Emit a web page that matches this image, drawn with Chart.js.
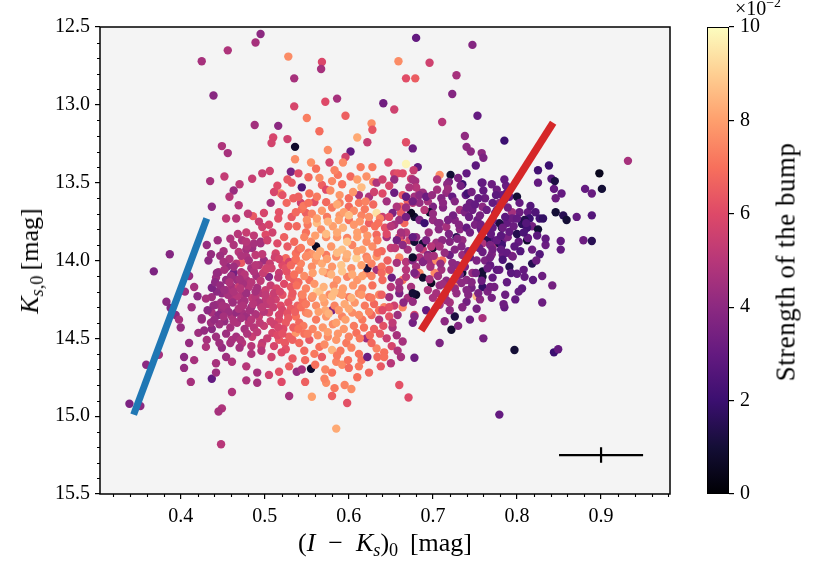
<!DOCTYPE html>
<html>
<head>
<meta charset="utf-8">
<script src="https://cdn.jsdelivr.net/npm/chart.js@4"></script>
<style>
  html, body { margin: 0; padding: 0; background: #fff; }
  #wrap { position: relative; width: 830px; height: 581px; overflow: hidden; font-family: "Liberation Serif", serif; color: #000; }
  canvas { position: absolute; top: 0; }
  .lbl { position: absolute; white-space: nowrap; transform: translate(-50%, -50%); font-size: 24px; line-height: 1; }
  .rot { transform: translate(-50%, -50%) rotate(-90deg); }
  .lbl sub { font-size: 70%; vertical-align: -0.3em; line-height: 0; }
  .lbl sup { font-size: 70%; vertical-align: 0.55em; line-height: 0; }
</style>
</head>
<body>
<div id="wrap">
  <canvas id="scatter" width="830" height="581" style="left:0"></canvas>
  <canvas id="cbar" width="130" height="581" style="left:700px"></canvas>
  <div class="lbl" style="left:385px; top:543px; font-size:26px;">(<i>I</i>&ensp;&minus;&ensp;<i>K</i><sub><i>s</i></sub>)<sub>0</sub>&thinsp;&nbsp;[mag]</div>
  <div class="lbl rot" style="left:30px; top:261px; font-size:26px;"><i>K</i><sub><i>s</i>,0</sub>&thinsp;[mag]</div>
  <div class="lbl rot" style="left:786px; top:262px; font-size:27px; letter-spacing:0.5px;">Strength of the bump</div>
  <div class="lbl" style="left:758px; top:8px; font-size:20px;">&times;10<sup>&minus;2</sup></div>
</div>
<script>
// (I-Ks)_0 colour, Ks,0 magnitude and bump strength (x 10^-2) of each star
var colourIK = [
  .425,.456,.489,.495,.528,.535,.439,.535,.488,.516,
  .510,.508,.527,.449,.456,.536,.536,.531,.435,.452,
  .470,.485,.497,.506,.463,.458,.519,
  .680,.747,.568,.567,.659,.696,.668,.679,.728,.723,
  .586,.572,.641,.654,.753,.711,.550,.596,.565,.627,
  .628,.610,.622,.668,.676,.738,.740,.745,.758,.760,
  .751,.740,.721,.708,.602,.575,.596,.555,.577,.593,
  .647,.668,.682,.677,.628,.587,.552,.621,.654,.658,
  .654,.674,.679,.580,.629,.719,.735,.758,
  .785,.932,.838,.825,.898,.841,.845,.825,.759,.770,
  .787,.844,.881,.901,.889,.853,.846,.782,.791,.800,
  .759,.846,.855,.859,.871,.889,.803,.813,.822,.794,
  .815,.827,.831,.806,.809,.818,.825,.782,.788,.794,
  .812,.852,.879,.889,.834,.852,.827,.802,.797,.783,
  .789,.771,.764,.771,.779,.759,.783,.794,.770,.779,
  .776,.785,
  .842,.830,.844,.849,
  .733,.739,.741,.744,.717,.716,.723,.705,.710,.732,
  .747,.700,.696,.694,.678,.684,.664,.670,.676,.662,
  .678,.684,.690,.700,.708,.716,.726,.732,.740,.753,
  .750,.666,.668,.662,.672,.678,.680,.688,.694,.700,
  .704,.711,.720,.728,.735,.734,.711,.710,.702,.720,
  .723,.729,.735,.744,.752,.759,.747,.735,.740,.728,
  .726,.734,.752,.746,.759,.765,.740,.720,.726,.785,
  .818,.819,.809,.800,.788,.795,.783,.791,.782,.776,
  .768,.771,.759,.762,.768,.776,.771,.759,.813,.812,
  .785,.776,.788,.771,.764,.756,.774,.779,.771,.783,
  .791,.800,
  .664,.676,.680,.672,.688,.684,.690,.662,.668,.674,
  .660,.664,.670,.660,.668,.676,.680,.688,.698,.708,
  .684,.690,.698,.704,.684,.688,.680,.668,.664,.674,
  .680,.670,.676,.664,.678,.698,.694,.704,.708,.716,
  .708,.692,
  .633,.544,.568,.573,.589,.600,.615,.612,.624,.630,
  .654,.668,.676,.684,.692,.645,.657,.668,.507,.526,
  .543,.559,.573,.589,.600,.612,.633,.499,.517,.532,
  .549,.562,.574,.589,.600,.615,.624,.640,.652,.660,
  .668,.495,.509,.523,.535,.549,.561,.573,.586,.598,
  .610,.621,.633,.645,.657,.664,.676,.684,.692,.499,
  .513,.525,.537,.549,.561,.573,.585,.597,.609,.621,
  .633,.645,.646,.657,.676,.688,.694,.505,.517,.529,
  .541,.553,.562,.574,.586,.598,.610,.621,.622,.633,
  .640,.651,.660,.668,.678,
  .437,.449,.461,.473,.485,.497,.509,.521,.532,.544,
  .556,.565,.577,.589,.600,.612,.624,.636,.648,.660,
  .676,.400,.425,.437,.449,.461,.473,.481,.493,.505,
  .517,.525,.537,.549,.561,.573,.580,.592,.604,.616,
  .627,.636,.648,.658,.676,.678,.410,.421,.431,.442,
  .449,.461,.473,.485,.497,.509,.517,.529,.537,.541,
  .553,.565,.575,.585,.597,.609,.621,.633,.642,.657,
  .404,.416,.404,.430,.442,.454,.461,.478,.491,.505,
  .517,.529,.538,.544,.555,.568,.580,.585,.592,.600,
  .615,.622,.634,.642,.678,.412,.437,.442,.478,.491,
  .573,.583,.595,.603,.580,.660,.461,.449,.445,.529,
  .556,.580,.598,.585,.671,.448,.779,.339,.352,
  .469,.437,.486,.454,.466,.478,.431,.451,.387,.433,
  .368,.469,.478,.485,.495,.489,.478,.472,.463,.472,
  .484,.493,.501,.490,.478,.467,.445,.442,.454,.461,
  .454,.443,.437,.430,.469,.481,.491,.501,.478,.489,
  .501,.472,.484,.496,.461,.454,.442,.466,.478,.489,
  .383,.388,.394,.425,.374,.359,
  .797,.708,.722,.760,.744,.759,.410,.416,.405,.420,
  .398,.413,.497,.501,.473,.479,.487,
  // denser core, left (magenta) part
  .447,.458,.466,.481,.497,.506,.512,.521,.529,.455,
  .452,.460,.476,.487,.498,.508,.516,.526,.534,.441,
  .447,.458,.474,.484,.495,.507,.514,.523,.531,.540,
  .448,.456,.467,.476,.493,.504,.513,.519,.528,.539,
  .445,.457,.469,.482,.499,.510,.521,.531,.543,.452,
  .437,.446,.459,.467,.476,.487,.499,.511,.522,.534,
  .454,.466,.479,.491,.503,.515,.524,.428,.436,.547,
  .459,.468,.487,.503,.515,.527,.540,.552,.444,.436,
  .451,.463,.472,.489,.502,.517,.525,.536,.443,.470,
  .452,.463,.471,.489,.501,.511,.518,.533,.545,.439,
  .450,.462,.474,.486,.497,.507,.517,.527,.536,.432,
  .440,.451,.463,.472,.484,.494,.507,.516,.528,.541,
  .459,.471,.484,.496,.511,.521,.533,.446,.463,.478,
  // denser core, centre (orange) part
  .544,.556,.568,.580,.594,.606,.619,.629,.637,.648,
  .538,.551,.567,.581,.593,.606,.618,.631,.643,.654,
  .543,.555,.566,.579,.592,.604,.616,.628,.639,.650,
  .531,.543,.556,.568,.580,.591,.603,.615,.627,.639,
  .538,.549,.559,.570,.582,.593,.605,.616,.628,.650,
  .549,.561,.571,.583,.595,.607,.619,.630,.642,.654,
  .546,.557,.569,.581,.594,.606,.618,.630,.641,.652,
  .521,.534,.553,.562,.578,.605,.620,.640,.511,.532,
  .525,.547,.559,.571,.590,.603,.612,.627,.651,.664,
  .540,.561,.583,.602,.614,.640,.648,.565,.610,.592,
  .550,.562,.575,.588,.600,.613,.624,.635,.546,.586,
  .547,.560,.573,.586,.598,.610,.622,.634,.645,.556,
  .537,.550,.562,.574,.586,.598,.610,.622,.634,.569,
  .535,.547,.557,.579,.592,.604,.616,.627,.639,.583,
  .545,.557,.569,.580,.592,.603,.615,.627,.639,.572,
  .552,.564,.576,.588,.600,.612,.624,.636,.648,.585,
  .551,.563,.575,.587,.600,.613,.625,.637,.540,.596,
  // denser core, right (purple) part
  .700,.712,.724,.738,.750,.762,.775,.789,.803,.816,
  .695,.707,.719,.731,.744,.757,.769,.781,.796,.808,
  .701,.714,.726,.742,.755,.768,.781,.804,.818,.834,
  .696,.706,.716,.732,.746,.758,.773,.788,.806,.830,
  .700,.714,.728,.742,.756,.770,.786,.802,.720,.735,
  .705,.718,.730,.746,.760,.699,.712,.726,.740,.754,
  .706,.718,.729,.743,.757,.771,.786,.800,.811,.824,
  .697,.709,.722,.738,.751,.765,.779,.793,.808,.823,
  .712,.726,.740,.754,.768,.784,.798,.714,.730,.752,
  // fill-in along the edges of the core
  .484,.496,.508,.520,.533,.548,.560,.572,.586,.599,
  .612,.624,.638,.650,.662,.520,.548,.571,.610,.470,
  .650,.662,.655,.648,.660,.640,.652,.665,.645,.658,
  .516,.528,.537,.505,.493,.480,.515,.527,.540,.552
];

var magKs = [
  12.72,12.65,12.60,12.545,12.69,12.83,12.94,13.01,13.13,13.135,
  13.21,13.245,13.22,13.265,13.31,13.27,13.35,13.43,13.49,13.46,
  13.51,13.475,13.44,13.425,13.55,13.59,13.57,
  12.57,12.615,12.725,12.77,12.72,12.73,12.83,12.83,12.81,12.93,
  12.96,12.98,12.99,13.03,13.07,13.11,13.085,13.07,13.17,13.12,
  13.16,13.21,13.24,13.24,13.28,13.20,13.27,13.30,13.31,13.34,
  13.39,13.44,13.45,13.45,13.30,13.29,13.335,13.37,13.37,13.37,
  13.37,13.38,13.40,13.42,13.40,13.45,13.465,13.46,13.44,13.44,
  13.48,13.475,13.49,13.49,13.495,13.495,13.51,13.50,
  13.23,13.36,13.39,13.42,13.44,13.475,13.49,13.50,13.50,13.51,
  13.52,13.54,13.54,13.54,13.57,13.57,13.60,13.58,13.59,13.59,
  13.655,13.69,13.71,13.74,13.72,13.71,13.69,13.69,13.69,13.69,
  13.73,13.73,13.73,13.765,13.74,13.78,13.80,13.79,13.76,13.73,
  13.87,13.875,13.87,13.875,13.90,13.93,13.96,13.88,13.91,13.87,
  13.85,13.87,13.87,13.91,13.89,13.89,13.965,13.97,13.96,13.63,
  13.675,13.61,
  14.16,14.27,14.59,14.57,
  13.52,13.58,13.57,13.63,13.51,13.565,13.59,13.545,13.60,13.675,
  13.675,13.655,13.69,13.62,13.59,13.565,13.58,13.62,13.63,13.655,
  13.72,13.74,13.76,13.74,13.76,13.785,13.74,13.80,13.79,13.74,
  13.77,13.76,13.82,13.85,13.87,13.88,13.85,13.93,13.965,13.92,
  13.885,13.87,13.88,13.85,13.87,13.91,14.00,14.06,14.08,13.965,
  14.015,14.03,13.965,13.98,14.00,14.07,14.08,14.08,14.125,14.125,
  14.17,14.145,14.23,14.175,14.17,14.20,14.265,14.27,14.36,14.30,
  14.02,14.125,14.105,14.085,13.95,13.975,13.995,14.04,13.90,13.87,
  13.90,13.93,13.945,14.00,14.03,14.06,14.11,14.105,13.855,13.79,
  13.48,13.545,13.565,13.63,13.675,13.71,13.695,13.76,13.79,13.79,
  13.815,13.83,
  13.44,13.48,13.53,13.53,13.565,13.63,13.675,13.695,13.72,13.695,
  13.85,13.89,13.93,13.98,14.01,14.00,14.04,13.89,13.91,13.91,
  13.98,14.00,14.015,14.00,14.08,14.11,14.09,14.06,14.125,14.17,
  14.22,14.24,14.265,14.30,14.35,14.145,14.19,14.21,14.16,14.255,
  14.285,14.32,
  13.50,13.53,13.515,13.545,13.58,13.60,13.53,13.58,13.59,13.56,
  13.565,13.59,13.62,13.58,13.59,13.62,13.655,13.66,13.63,13.63,
  13.63,13.625,13.625,13.63,13.655,13.63,13.695,13.695,13.69,13.72,
  13.695,13.76,13.72,13.71,13.74,13.71,13.76,13.72,13.695,13.74,
  13.72,13.88,13.82,13.85,13.88,13.82,13.91,13.85,13.85,13.855,
  13.85,13.88,13.835,13.85,13.87,13.90,13.85,13.92,13.87,14.00,
  13.955,13.985,13.955,13.975,14.00,13.965,13.975,13.985,13.985,13.975,
  13.975,14.07,14.00,14.015,13.98,14.01,13.975,14.105,14.08,14.105,
  14.06,14.125,14.20,14.08,14.125,14.105,14.125,14.08,14.05,14.06,
  14.125,14.11,14.14,14.105,14.08,
  14.235,14.21,14.255,14.22,14.24,14.21,14.24,14.22,14.235,14.22,
  14.24,14.20,14.22,14.21,14.235,14.21,14.235,14.22,14.235,14.21,
  14.21,14.43,14.38,14.335,14.32,14.36,14.335,14.40,14.36,14.335,
  14.38,14.40,14.36,14.335,14.38,14.36,14.32,14.36,14.335,14.38,
  14.35,14.38,14.36,14.35,14.40,14.36,14.53,14.465,14.51,14.49,
  14.56,14.51,14.53,14.49,14.53,14.465,14.51,14.49,14.465,14.53,
  14.51,14.555,14.49,14.51,14.53,14.465,14.50,14.565,14.59,14.48,
  14.62,14.64,14.69,14.555,14.66,14.62,14.65,14.68,14.72,14.735,
  14.715,14.68,14.715,14.70,14.695,14.62,14.575,14.65,14.67,14.69,
  14.64,14.62,14.62,14.62,14.625,14.78,14.76,14.72,14.77,14.785,
  14.785,14.82,14.80,14.825,14.72,14.80,14.845,14.95,14.97,14.87,
  14.875,14.87,14.915,15.08,14.88,15.18,14.99,14.92,14.935,
  13.645,13.655,13.715,13.73,13.73,13.82,13.90,13.94,13.96,14.00,
  14.07,13.945,13.93,13.92,13.89,13.965,13.975,14.015,14.08,14.075,
  14.05,14.03,14.06,14.10,14.125,14.125,14.075,14.11,14.125,14.17,
  14.19,14.20,14.175,14.245,14.17,14.17,14.175,14.19,14.21,14.235,
  14.255,14.27,14.30,14.30,14.24,14.30,14.285,14.335,14.36,14.345,
  14.265,14.305,14.35,14.37,14.605,14.67,
  14.575,14.53,14.445,14.50,14.38,14.37,14.10,14.17,14.20,14.23,
  14.38,14.30,13.785,13.835,13.87,13.91,13.89,
  // denser core, left part
  13.97,13.99,14.02,14.00,13.96,14.02,13.98,14.03,14.01,14.04,
  14.06,14.10,14.09,14.07,14.08,14.05,14.11,14.07,14.12,14.14,
  14.16,14.14,14.15,14.14,14.13,14.16,14.18,14.15,14.17,14.14,
  14.27,14.22,14.23,14.26,14.27,14.28,14.25,14.29,14.27,14.29,
  14.35,14.33,14.31,14.32,14.33,14.30,14.32,14.31,14.30,14.39,
  14.44,14.41,14.43,14.40,14.44,14.43,14.42,14.41,14.44,14.43,
  14.47,14.49,14.47,14.46,14.50,14.48,14.53,14.45,14.40,14.47,
  13.86,13.83,13.84,13.87,13.89,13.91,13.93,13.95,13.87,13.96,
  14.01,14.04,13.97,14.03,14.05,13.99,14.05,14.00,14.08,14.12,
  14.19,14.20,14.18,14.20,14.22,14.21,14.20,14.21,14.25,14.29,
  14.29,14.27,14.29,14.28,14.30,14.26,14.35,14.34,14.33,14.32,
  14.38,14.36,14.39,14.37,14.38,14.40,14.39,14.43,14.37,14.40,
  14.53,14.51,14.55,14.55,14.55,14.47,14.51,14.53,13.90,13.88,
  // denser core, centre part
  13.67,13.70,13.68,13.66,13.69,13.68,13.67,13.64,13.73,13.72,
  13.78,13.77,13.80,13.78,13.79,13.77,13.80,13.78,13.79,13.77,
  13.92,13.88,13.94,13.91,13.93,13.90,13.93,13.91,13.94,13.92,
  14.03,14.02,14.04,14.02,14.04,14.03,14.05,14.03,14.02,14.04,
  14.16,14.18,14.15,14.17,14.16,14.18,14.16,14.18,14.16,14.17,
  14.28,14.29,14.27,14.29,14.28,14.27,14.29,14.28,14.30,14.29,
  14.42,14.44,14.43,14.41,14.44,14.42,14.43,14.44,14.42,14.43,
  13.58,13.60,13.57,13.59,13.55,13.56,13.62,13.57,13.56,13.50,
  14.57,14.58,14.60,14.54,14.58,14.56,14.60,14.53,14.55,14.52,
  13.44,13.41,13.42,13.46,13.40,13.48,13.52,13.47,13.48,13.51,
  13.74,13.73,13.75,13.74,13.71,13.75,13.72,13.76,13.65,13.64,
  13.85,13.84,13.83,13.82,13.88,13.82,13.84,13.87,13.83,13.96,
  13.99,13.97,13.97,13.99,13.95,13.96,13.94,13.99,13.95,14.07,
  14.09,14.10,14.08,14.09,14.07,14.09,14.10,14.10,14.08,14.20,
  14.22,14.23,14.24,14.23,14.22,14.24,14.22,14.24,14.22,14.32,
  14.34,14.33,14.34,14.32,14.31,14.35,14.33,14.32,14.30,14.40,
  14.47,14.48,14.46,14.47,14.49,14.50,14.48,14.47,14.44,14.38,
  // denser core, right part
  13.70,13.66,13.71,13.69,13.64,13.60,13.58,13.66,13.63,13.65,
  13.82,13.80,13.83,13.77,13.82,13.80,13.83,13.84,13.78,13.82,
  13.97,13.95,13.93,13.94,13.92,13.98,13.93,13.94,13.93,13.86,
  14.12,14.10,14.13,14.09,14.14,14.13,14.17,14.14,14.18,14.10,
  14.24,14.22,14.21,14.22,14.25,14.24,14.22,14.20,14.32,14.30,
  13.48,13.54,13.47,13.56,13.55,13.58,13.63,13.62,13.66,13.60,
  13.76,13.74,13.86,13.72,13.77,13.74,13.72,13.73,13.76,13.84,
  14.04,14.02,14.06,14.04,14.08,14.05,14.06,14.08,14.06,14.00,
  14.15,14.18,14.19,14.21,14.17,14.28,14.25,14.39,14.42,14.31,
  // fill-in along the edges
  14.60,14.58,14.62,14.59,14.63,14.64,14.67,14.70,14.61,14.64,
  14.68,14.72,14.68,14.66,14.62,14.78,14.78,14.76,14.75,14.56,
  13.78,13.82,13.92,14.06,14.18,14.32,14.40,14.27,14.50,14.58,
  13.73,13.78,13.69,13.77,13.75,13.70,13.52,13.48,13.59,13.63
];

var bump = [
  4.6,4.8,4.6,4.0,7.6,4.6,3.9,5.8,4.5,4.0,
  5.8,5.7,5.6,4.8,4.6,0.8,7.6,3.5,4.6,5.3,
  5.1,5.4,5.4,5.6,4.3,5.0,7.4,
  3.0,3.8,5.9,4.6,7.6,5.6,6.1,6.5,4.6,3.8,
  4.6,6.0,3.3,5.6,3.0,5.0,7.3,6.6,6.9,7.6,
  6.3,8.2,5.4,6.1,3.2,4.1,4.0,4.0,4.0,3.6,
  2.8,3.0,1.0,7.6,3.0,7.6,5.7,7.7,5.7,7.6,
  5.9,9.8,3.0,5.4,7.2,7.1,6.8,7.7,5.8,6.1,
  4.2,5.6,4.6,7.5,7.4,3.6,2.0,2.3,
  2.0,4.6,2.0,2.2,0.5,2.6,1.2,3.0,3.0,3.2,
  3.1,3.0,3.0,1.0,3.1,3.0,3.2,3.2,3.0,1.0,
  4.0,1.0,1.5,1.0,3.0,2.6,3.2,3.0,2.5,4.5,
  2.0,2.2,1.8,1.6,1.4,3.4,1.0,1.0,3.0,3.2,
  0.8,3.0,3.2,1.5,3.2,3.0,2.6,3.0,2.8,3.2,
  3.6,2.5,1.5,4.6,1.2,4.8,3.2,4.2,3.8,4.0,
  3.8,3.4,
  3.4,3.2,2.0,3.0,
  3.4,3.0,2.2,3.2,4.0,4.2,3.0,4.5,3.8,4.5,
  3.2,3.6,0.8,4.6,4.5,4.8,6.3,6.6,5.0,6.8,
  1.0,3.6,2.0,4.2,4.0,4.6,3.8,4.0,3.0,3.2,
  3.6,6.8,5.0,4.2,5.5,1.0,4.0,5.4,3.8,0.8,
  4.5,4.0,3.8,1.5,4.2,3.8,7.0,4.5,7.5,3.2,
  4.0,4.0,4.2,3.0,3.6,1.0,4.2,1.0,4.0,4.6,
  8.0,4.0,8.6,3.4,1.8,3.6,3.4,4.6,1.2,3.0,
  1.5,2.8,3.0,3.0,3.0,3.4,2.4,1.5,2.2,3.0,
  3.6,3.4,3.2,3.6,3.0,2.8,3.0,1.0,3.0,2.2,
  3.0,3.2,3.0,3.0,3.2,3.4,3.2,1.2,3.0,3.2,
  3.0,1.4,
  6.0,4.6,5.0,4.8,4.4,4.2,5.0,6.4,5.8,0.6,
  5.6,7.0,4.6,7.4,5.0,3.8,4.5,1.0,5.0,4.6,
  4.8,4.0,4.4,7.6,7.5,0.8,4.6,5.0,7.0,4.6,
  0.8,4.6,4.2,7.5,5.8,0.6,4.8,4.6,4.2,4.4,
  4.6,3.0,
  4.8,2.5,6.6,6.0,7.8,6.9,8.6,4.6,4.8,5.6,
  3.2,3.0,3.4,4.0,3.2,4.5,4.8,4.4,4.6,6.8,
  5.6,6.2,6.8,7.4,6.8,7.2,9.4,5.8,6.2,6.4,
  6.6,8.6,7.2,7.8,7.0,7.4,6.6,5.4,3.6,4.4,
  3.4,4.4,5.6,6.6,6.8,7.0,0.6,7.6,7.8,7.4,
  8.0,7.6,6.8,4.6,3.4,4.0,3.0,4.2,3.6,4.4,
  5.8,6.8,7.0,7.4,7.8,7.2,7.6,8.2,9.0,7.4,
  7.8,9.6,6.6,4.6,0.8,3.8,4.4,4.0,5.4,6.4,
  7.2,7.0,9.2,7.6,7.8,7.4,7.8,7.2,1.0,4.6,
  6.8,3.2,4.6,5.0,3.6,
  4.4,4.2,4.6,4.8,5.2,5.0,5.8,6.2,6.6,6.8,
  7.4,8.8,7.6,7.8,7.2,7.6,7.0,7.4,4.4,3.6,
  1.0,4.2,4.4,4.6,4.4,4.8,4.6,5.0,5.4,5.6,
  6.0,6.4,7.0,7.4,7.2,7.8,3.6,7.4,7.6,7.2,
  6.8,4.8,6.2,4.4,3.4,3.8,4.2,4.4,4.6,4.4,
  4.2,4.8,5.0,5.4,5.2,5.8,6.4,6.6,7.8,6.8,
  6.4,7.0,7.6,7.8,7.2,7.0,4.4,7.4,7.0,4.6,
  4.0,4.6,4.2,4.8,4.6,4.4,4.8,5.0,4.6,5.6,
  6.2,6.6,4.2,4.6,0.8,6.4,8.4,7.4,7.6,6.8,
  7.0,3.2,6.8,7.0,3.2,4.6,3.0,4.4,4.8,4.6,
  7.6,7.2,7.4,7.6,7.0,6.2,4.8,4.8,4.6,4.6,
  8.0,6.6,6.2,8.2,6.0,5.0,3.0,3.6,4.0,
  5.0,4.0,6.4,5.2,5.0,5.4,4.2,4.6,3.8,4.0,
  3.6,5.0,4.6,4.4,4.6,5.2,4.8,6.4,3.4,4.8,
  4.6,4.8,6.4,4.6,4.8,4.4,4.6,4.4,4.2,4.6,
  4.8,4.0,3.6,4.6,5.4,5.0,4.6,5.4,4.4,5.0,
  5.2,4.6,4.4,5.0,4.8,4.6,4.4,4.2,4.4,4.8,
  4.0,3.8,4.0,4.2,4.6,4.0,
  1.0,3.6,0.8,3.4,3.2,4.6,4.2,4.6,4.4,4.0,
  4.6,4.4,5.6,6.0,4.8,4.8,4.6,
  // denser core, left part
  4.4,4.8,5.0,4.6,5.2,5.4,5.6,6.0,5.8,4.2,
  4.6,4.4,5.0,4.8,5.4,5.6,5.2,6.2,6.6,4.0,
  4.2,4.8,4.6,5.0,5.2,5.4,5.8,6.0,6.4,6.8,
  4.4,4.6,5.0,4.6,4.8,5.2,5.6,6.0,6.2,6.6,
  4.0,4.4,4.8,4.6,5.0,5.4,5.8,6.4,7.0,4.2,
  4.0,4.4,4.6,4.8,4.6,5.0,5.4,5.6,6.0,6.6,
  4.4,4.6,4.8,5.2,5.4,6.0,6.4,4.2,4.4,7.0,
  4.8,5.0,5.2,5.6,6.0,6.4,6.8,7.2,4.4,4.2,
  4.6,4.4,4.8,5.0,5.6,5.8,6.2,6.6,4.2,4.6,
  4.4,4.8,5.0,4.6,5.2,5.4,5.8,6.4,7.0,4.2,
  4.6,4.4,4.8,5.0,5.2,5.4,5.8,6.2,6.6,4.0,
  4.2,4.6,4.8,4.6,5.0,5.2,5.6,5.8,6.4,6.8,
  4.6,4.8,5.0,5.4,5.8,6.2,6.6,4.4,4.8,5.0,
  // denser core, centre part
  7.0,7.4,7.8,7.2,8.0,7.6,7.2,6.8,7.4,6.0,
  6.8,7.2,7.6,8.0,8.4,7.8,7.4,7.0,6.2,4.6,
  7.2,7.6,8.2,7.8,8.6,7.4,8.0,7.6,6.8,5.4,
  6.8,7.4,7.6,8.2,7.8,8.8,7.6,8.0,7.4,7.0,
  7.0,7.4,7.8,8.4,7.6,8.0,7.8,7.4,7.0,5.0,
  7.2,7.6,8.0,7.4,8.2,7.8,7.2,6.8,7.4,5.6,
  7.2,7.4,7.8,7.6,7.8,7.2,7.0,6.6,6.2,4.8,
  6.2,6.6,7.0,7.2,7.6,7.8,7.4,6.0,5.8,6.4,
  6.2,6.8,7.2,7.6,7.2,7.4,7.0,6.8,5.8,4.6,
  6.0,7.0,7.4,6.8,7.2,5.6,5.8,7.6,8.0,7.0,
  7.6,8.0,8.4,8.0,8.6,7.8,7.6,7.0,7.2,8.2,
  7.4,8.0,8.6,8.2,8.8,8.0,7.8,7.2,6.0,7.8,
  7.0,7.6,8.2,8.0,8.6,8.4,8.0,7.6,7.0,8.4,
  7.0,7.6,8.0,8.4,8.8,8.2,8.0,7.4,6.8,8.6,
  7.4,7.8,8.2,8.6,8.0,8.4,7.8,7.2,6.6,8.2,
  7.6,8.0,8.4,7.8,8.2,7.6,7.4,7.0,6.2,8.0,
  7.2,7.6,8.0,7.8,7.4,7.2,6.8,6.4,7.0,8.0,
  // denser core, right part
  4.2,3.8,3.4,3.6,3.0,3.2,2.8,3.4,3.0,2.6,
  4.4,4.0,3.6,3.8,3.4,3.2,3.0,2.8,3.2,2.4,
  4.6,4.2,3.8,3.6,3.2,3.4,3.0,2.6,3.2,3.0,
  4.6,4.4,4.0,3.6,3.8,3.2,3.4,3.0,2.8,3.2,
  4.6,4.4,4.2,3.8,4.0,3.4,3.2,3.0,4.0,3.8,
  4.8,4.4,3.6,3.4,3.0,4.2,4.0,3.8,3.2,3.0,
  4.0,3.6,3.8,3.2,3.4,3.0,2.8,3.0,2.6,2.8,
  4.6,4.2,4.0,3.6,3.4,3.2,3.0,2.8,3.0,3.2,
  4.4,4.2,3.8,3.6,3.4,3.2,3.0,4.0,3.8,3.4,
  // fill-in along the edges
  4.8,5.0,5.6,6.0,6.4,6.8,7.0,7.4,7.2,7.0,
  7.2,6.8,6.4,5.0,4.6,6.0,6.6,7.4,7.0,4.6,
  5.0,4.6,5.2,6.4,4.4,6.0,5.2,4.0,5.4,4.8,
  6.2,6.6,6.8,5.8,5.4,5.2,6.0,6.4,6.6,7.0
];

// the two straight lines and the typical error bar
var blueLineIK = [0.344, 0.431];
var blueLineKs = [14.99, 13.73];
var redLineIK = [0.686, 0.843];
var redLineKs = [14.45, 13.115];
var errCentre = [0.90, 15.25];
var errHalf = [0.05, 0.05];

// axis ticks
var xTicks = [0.4, 0.5, 0.6, 0.7, 0.8, 0.9];
var yTicks = [12.5, 13.0, 13.5, 14.0, 14.5, 15.0, 15.5];
var cbarTicks = [0, 2, 4, 6, 8, 10];

var magmaStops = ["#000004", "#140e36", "#3b0f70", "#641a80", "#8c2981", "#b73779",
                  "#de4968", "#f7705c", "#fe9f6d", "#fecf92", "#fcfdbf"];

if (colourIK.length !== magKs.length || colourIK.length !== bump.length) {
  throw new Error("length mismatch " + colourIK.length + " " + magKs.length + " " + bump.length);
}

function hexRgb(h) {
  return [parseInt(h.slice(1, 3), 16), parseInt(h.slice(3, 5), 16), parseInt(h.slice(5, 7), 16)];
}

function magma(v) {
  var t = Math.min(1, Math.max(0, v / cbarTicks[cbarTicks.length - 1])) * (magmaStops.length - 1);
  var i = Math.min(Math.floor(t), magmaStops.length - 2);
  var f = t - i;
  var a = hexRgb(magmaStops[i]), b = hexRgb(magmaStops[i + 1]);
  return "rgb(" + Math.round(a[0] + (b[0] - a[0]) * f) + "," +
    Math.round(a[1] + (b[1] - a[1]) * f) + "," + Math.round(a[2] + (b[2] - a[2]) * f) + ")";
}

Chart.defaults.font.family = "'Liberation Serif', serif";
Chart.defaults.color = "#000";

var tickFont = { family: "'Liberation Serif', serif", size: 20 };

// background, frame and minor ticks of the main axes
var framePlugin = {
  id: "frame",
  beforeDraw: function(chart) {
    var a = chart.chartArea, ctx = chart.ctx;
    ctx.save();
    ctx.fillStyle = "#f4f4f4";
    ctx.fillRect(a.left, a.top, a.right - a.left, a.bottom - a.top);
    ctx.restore();
  },
  afterDraw: function(chart) {
    var a = chart.chartArea, ctx = chart.ctx;
    var sx = chart.scales.x, sy = chart.scales.y;
    ctx.save();
    ctx.strokeStyle = "#000";
    ctx.lineWidth = 1.1;
    ctx.beginPath();
    for (var k = 16; k <= 49; k++) {
      if (k % 5 === 0) continue;
      var px = Math.round(sx.getPixelForValue(k * 0.02)) + 0.5;
      ctx.moveTo(px, a.bottom);
      ctx.lineTo(px, a.bottom + 3);
    }
    for (var j = 126; j <= 154; j++) {
      if (j % 5 === 0) continue;
      var py = Math.round(sy.getPixelForValue(j / 10)) + 0.5;
      ctx.moveTo(a.left, py);
      ctx.lineTo(a.left - 3, py);
    }
    ctx.stroke();
    ctx.lineWidth = 1.5;
    ctx.strokeRect(a.left, a.top, a.right - a.left, a.bottom - a.top);
    ctx.restore();
  }
};

function renderScatter() {
  var points = colourIK.map(function(x, i) { return { x: x, y: magKs[i] }; });
  new Chart(document.getElementById("scatter"), {
    type: "scatter",
    data: {
      datasets: [
        {
          type: "line",
          data: [{ x: errCentre[0] - errHalf[0], y: errCentre[1] }, { x: errCentre[0] + errHalf[0], y: errCentre[1] }],
          borderColor: "#000", borderWidth: 2.2, pointRadius: 0, order: 0
        },
        {
          type: "line",
          data: [{ x: errCentre[0], y: errCentre[1] - errHalf[1] }, { x: errCentre[0], y: errCentre[1] + errHalf[1] }],
          borderColor: "#000", borderWidth: 2.2, pointRadius: 0, order: 0
        },
        {
          type: "line",
          data: blueLineIK.map(function(x, i) { return { x: x, y: blueLineKs[i] }; }),
          borderColor: "#1f77b4", borderWidth: 7, pointRadius: 0, order: 1
        },
        {
          type: "line",
          data: redLineIK.map(function(x, i) { return { x: x, y: redLineKs[i] }; }),
          borderColor: "#d62728", borderWidth: 7.5, pointRadius: 0, order: 1
        },
        {
          data: points,
          backgroundColor: bump.map(magma),
          borderWidth: 0,
          pointRadius: 4.2,
          pointHoverRadius: 4.2,
          order: 2
        }
      ]
    },
    options: {
      responsive: false,
      animation: false,
      events: [],
      layout: { padding: { left: 0, right: 160, top: 27, bottom: 0 } },
      plugins: { legend: { display: false }, tooltip: { enabled: false } },
      scales: {
        x: {
          type: "linear",
          min: 0.304,
          max: 0.982,
          afterBuildTicks: function(s) { s.ticks = xTicks.map(function(v) { return { value: v }; }); },
          afterFit: function(s) { s.height = 87; },
          ticks: {
            font: tickFont, color: "#000", padding: 6, maxRotation: 0, autoSkip: false,
            callback: function(v) { return Number(v).toFixed(1); }
          },
          grid: { drawOnChartArea: false, drawTicks: true, tickLength: 5, color: "#000", lineWidth: 1.2 },
          border: { display: false }
        },
        y: {
          type: "linear",
          reverse: true,
          min: 12.5,
          max: 15.5,
          afterBuildTicks: function(s) { s.ticks = yTicks.map(function(v) { return { value: v }; }); },
          afterFit: function(s) { s.width = 100; },
          ticks: {
            font: tickFont, color: "#000", padding: 5, autoSkip: false,
            callback: function(v) { return Number(v).toFixed(1); }
          },
          grid: { drawOnChartArea: false, drawTicks: true, tickLength: 5, color: "#000", lineWidth: 1.2 },
          border: { display: false }
        }
      }
    },
    plugins: [framePlugin]
  });
}

var cbarFrame = {
  id: "cbarFrame",
  afterDraw: function(chart) {
    var a = chart.chartArea, ctx = chart.ctx;
    ctx.save();
    ctx.strokeStyle = "#000";
    ctx.lineWidth = 1;
    ctx.strokeRect(a.left + 0.5, a.top + 0.5, a.right - a.left - 1, a.bottom - a.top - 1);
    ctx.restore();
  }
};

function renderColourbar() {
  new Chart(document.getElementById("cbar"), {
    type: "bar",
    data: {
      labels: ["bump"],
      datasets: [{
        data: [[cbarTicks[0], cbarTicks[cbarTicks.length - 1]]],
        barPercentage: 1,
        categoryPercentage: 1,
        borderWidth: 0,
        backgroundColor: function(ctx) {
          var a = ctx.chart.chartArea;
          if (!a) return magmaStops[5];
          var g = ctx.chart.ctx.createLinearGradient(0, a.bottom, 0, a.top);
          magmaStops.forEach(function(c, i) { g.addColorStop(i / (magmaStops.length - 1), c); });
          return g;
        }
      }]
    },
    options: {
      responsive: false,
      animation: false,
      events: [],
      layout: { padding: { left: 7, right: 0, top: 27, bottom: 87 } },
      plugins: { legend: { display: false }, tooltip: { enabled: false } },
      scales: {
        x: { display: false },
        y: {
          position: "right",
          min: cbarTicks[0],
          max: cbarTicks[cbarTicks.length - 1],
          afterBuildTicks: function(s) { s.ticks = cbarTicks.map(function(v) { return { value: v }; }); },
          afterFit: function(s) { s.width = 101; },
          ticks: { font: tickFont, color: "#000", padding: 6 },
          grid: { drawOnChartArea: false, drawTicks: true, tickLength: 5, color: "#000", lineWidth: 1.2 },
          border: { display: false }
        }
      }
    },
    plugins: [cbarFrame]
  });
}

renderScatter();
renderColourbar();
</script>
</body>
</html>
